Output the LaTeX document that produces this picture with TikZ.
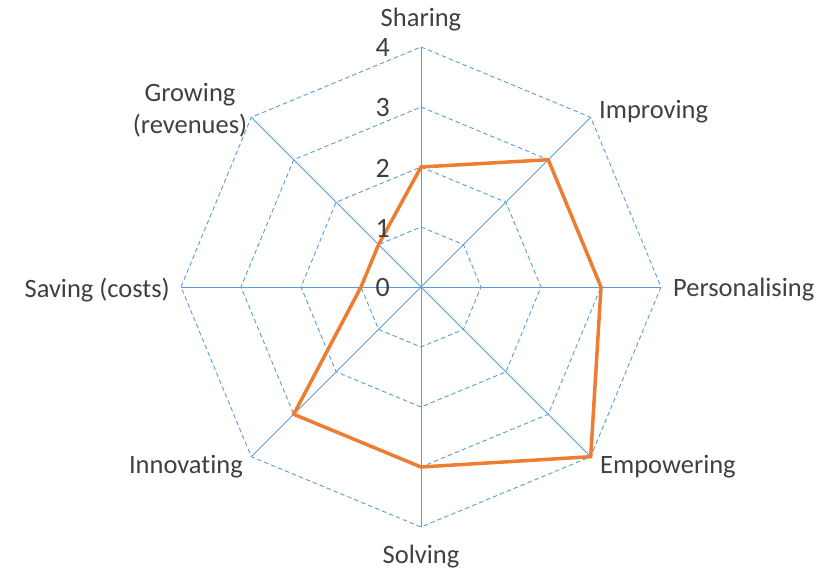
\documentclass[tikz,border=0pt]{standalone}
\usepackage{fontspec}
\setmainfont{Carlito}[Ligatures={NoCommon}]
\definecolor{gridblue}{HTML}{5B9BD5}
\definecolor{serieorange}{HTML}{ED7D31}
\definecolor{txt}{HTML}{404040}
\begin{document}
\begin{tikzpicture}[x=1pt,y=1pt,
  axisline/.style={draw=gridblue,line width=0.9pt},
  gridline/.style={draw=gridblue,line width=0.9pt,dash pattern=on 4.5pt off 3pt},
  series/.style={draw=serieorange,line width=3.5pt,line join=miter},
  axlabel/.style={text=txt,font=\fontsize{26.5}{32}\selectfont,inner sep=0pt,align=center},
  numlabel/.style={text=txt,font=\fontsize{28}{32}\selectfont,inner sep=0pt,anchor=east}]
\useasboundingbox (-421,-283) rectangle (405,287);
\coordinate (c) at (0,0);
% grid
\foreach \r in {60,120,180,240}{
  \draw[gridline] (90:\r) -- (45:\r) -- (0:\r) -- (-45:\r) -- (-90:\r) -- (-135:\r) -- (180:\r) -- (135:\r) -- cycle;
}
% axes
\foreach \a in {90,45,0,-45,-90,-135,180,135}{
  \draw[axisline] (c) -- (\a:240);
}
% series
\draw[series] (90:120) -- (45:180) -- (0:180) -- (-45:240) -- (-90:180) -- (-135:180) -- (180:60) -- (135:60) -- cycle;
% numbers
\node[numlabel] (n4) at (-31,239) {4};
\node[numlabel] (n3) at (-31,179) {3};
\node[numlabel] (n2) at (-31,119) {2};
\node[numlabel] (n1) at (-31,59) {1};
\node[numlabel] (n0) at (-31,-1) {0};
% axis labels
\node[axlabel] (sharing) at (0,267) {Sharing};
\node[axlabel,anchor=west] (improving) at (178,175) {Improving};
\node[axlabel,anchor=west] (personal) at (252,-3) {Personalising};
\node[axlabel,anchor=west] (empower) at (179,-180) {Empowering};
\node[axlabel] (solving) at (0,-270) {Solving};
\node[axlabel,anchor=east] (innov) at (-178,-180) {Innovating};
\node[axlabel,anchor=east] (saving) at (-251,-3) {Saving (costs)};
\node[axlabel] (growing) at (-231,177) {Growing\\(revenues)};
\end{tikzpicture}
\end{document}
